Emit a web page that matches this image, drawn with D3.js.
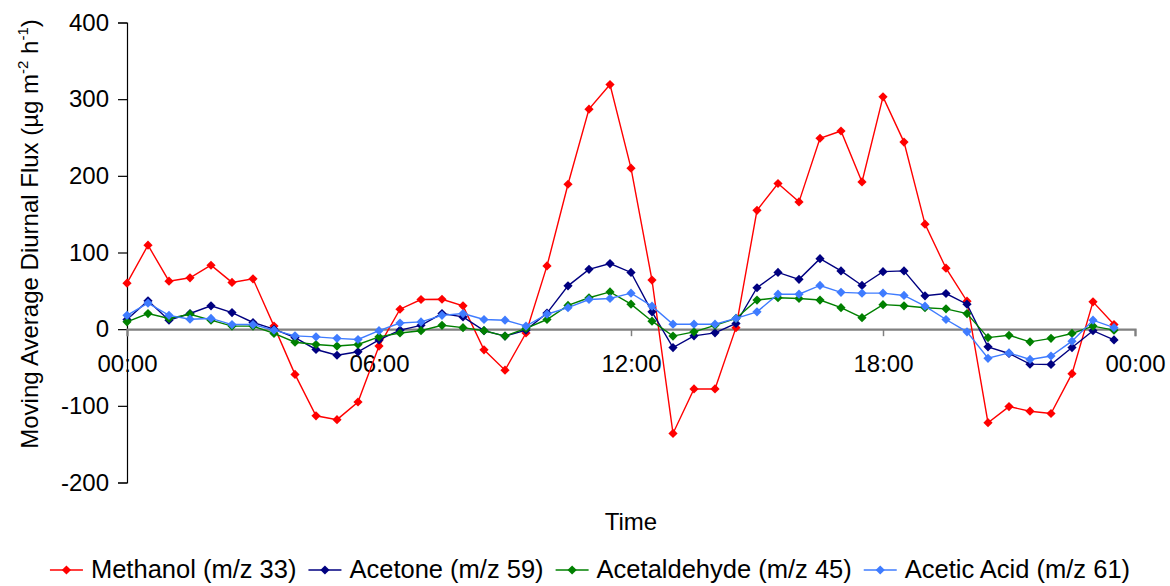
<!DOCTYPE html>
<html>
<head>
<meta charset="utf-8">
<script src="https://cdn.jsdelivr.net/npm/d3@7"></script>
<style>
  body { margin: 0; background: #fff; }
  svg { font-family: "Liberation Sans", Arial, sans-serif; }
</style>
</head>
<body>
<svg id="chart"></svg>
<script>
// half-hourly moving average flux
var times = ["00:00","00:30","01:00","01:30","02:00","02:30","03:00","03:30","04:00","04:30",
             "05:00","05:30","06:00","06:30","07:00","07:30","08:00","08:30","09:00","09:30",
             "10:00","10:30","11:00","11:30","12:00","12:30","13:00","13:30","14:00","14:30",
             "15:00","15:30","16:00","16:30","17:00","17:30","18:00","18:30","19:00","19:30",
             "20:00","20:30","21:00","21:30","22:00","22:30","23:00","23:30"];

var methanol = [60, 109.5, 62.6, 67, 83.4, 61, 65.6, 4, -59, -113,
                -118, -95, -22, 26, 38.7, 39, 30.4, -27, -53.5, -5,
                82.5, 189, 287, 319, 210, 64, -136, -78, -78, 2,
                155, 190, 166, 249, 258.5, 192, 303, 244, 137, 79.5,
                36.5, -122, -101, -107, -110, -58, 35.6, 6];
var acetone = [12.6, 37, 11.7, 20.4, 30.4, 21.7, 8.7, 0, -11, -26.5,
               -34, -29.5, -14, -1.3, 5, 20.4, 16, -2, -9, -1.3,
               21, 56.5, 78, 85.6, 74, 22.6, -24, -8.7, -4.8, 7.4,
               54, 74, 65, 92, 76, 57, 75, 76, 43.5, 46.5,
               32.6, -23, -31.7, -45.6, -46, -24, -2, -14];
var acetaldehyde = [9.6, 20.4, 14, 19.5, 11.7, 4, 4, -5.6, -17, -20,
                    -22, -20, -10, -5, -2, 5, 2, -2, -9, 1,
                    12.6, 31, 41, 48.6, 32.6, 10.4, -9, -3.5, 5, 14,
                    38, 41, 40, 38, 28, 15, 32, 30.5, 28, 26.5,
                    20.4, -11, -8, -16.5, -12, -5.6, 4, -1.3];
var aceticAcid = [18, 34, 18, 13, 14, 6, 6, -1.3, -8.7, -10,
                  -12, -13.5, -2, 8, 9.5, 18, 20.4, 12.6, 11.7, 4,
                  19.5, 28, 38.7, 40, 47, 30, 6.5, 6.5, 6.5, 14,
                  22.6, 45.6, 45.6, 57, 48, 47, 47, 44, 30, 12.6,
                  -3.5, -38, -31, -39.5, -35, -15.6, 11.7, 2];

var seriesNames = ["Methanol (m/z 33)", "Acetone (m/z 59)", "Acetaldehyde (m/z 45)", "Acetic Acid (m/z 61)"];
var seriesColors = ["#ff0000", "#000080", "#008000", "#3f7cff"];
var xTickHours = [0, 6, 12, 18, 24];
var xTickLabels = ["00:00", "06:00", "12:00", "18:00", "00:00"];
var yTicks = [-200, -100, 0, 100, 200, 300, 400];

var W = 1170, H = 586;
var svg = d3.select("#chart").attr("width", W).attr("height", H);

var x = d3.scaleLinear().domain([0, 24]).range([127, 1135]);
var y = d3.scaleLinear().domain([-200, 400]).range([482.5, 22.5]);

function hours(t){
    var p = t.split(":");
    return +p[0] + (+p[1])/60;
}

var allSeries = [methanol, acetone, acetaldehyde, aceticAcid].map(function(vals, k){
    return {name: seriesNames[k], color: seriesColors[k],
            pts: vals.map(function(v, i){ return {h: hours(times[i]), v: v}; })};
});

// y axis
var yAxis = svg.append("g").attr("transform", "translate(127,0)")
    .call(d3.axisLeft(y).tickValues(yTicks).tickSize(9).tickPadding(9)
          .tickFormat(function(d){ return String(d); }));
yAxis.select(".domain").attr("stroke", "#000").attr("stroke-width", 1.2);
yAxis.selectAll(".tick line").attr("stroke", "#000").attr("stroke-width", 1.2);
yAxis.selectAll("text").attr("font-size", 24).attr("font-family", "Liberation Sans, Arial, sans-serif").attr("fill", "#000");

// x axis along zero
var xAxis = svg.append("g").attr("transform", "translate(0," + y(0) + ")")
    .call(d3.axisBottom(x).tickValues(xTickHours).tickSize(7).tickPadding(19)
          .tickFormat(function(d, i){ return xTickLabels[i]; }));
xAxis.select(".domain").attr("stroke", "#808080").attr("stroke-width", 2.2);
xAxis.selectAll(".tick line").attr("stroke", "#808080").attr("stroke-width", 1.5);
xAxis.selectAll("text").attr("font-size", 24).attr("font-family", "Liberation Sans, Arial, sans-serif").attr("fill", "#000");

// lines + markers
var line = d3.line().x(function(d){ return x(d.h); }).y(function(d){ return y(d.v); });
var diamond = "M0,-4.6L4.6,0L0,4.6L-4.6,0Z";

allSeries.forEach(function(s){
    var g = svg.append("g");
    g.append("path").attr("d", line(s.pts)).attr("fill", "none")
        .attr("stroke", s.color).attr("stroke-width", 1.4);
    g.selectAll("path.m").data(s.pts).enter().append("path").attr("class", "m")
        .attr("d", diamond)
        .attr("transform", function(d){ return "translate(" + x(d.h) + "," + y(d.v) + ")"; })
        .attr("fill", s.color);
});

// titles
svg.append("text").attr("x", 631).attr("y", 530).attr("text-anchor", "middle")
    .attr("font-size", 24).text("Time");

var yt = svg.append("text").attr("transform", "translate(38,234) rotate(-90)")
    .attr("text-anchor", "middle").attr("font-size", 24);
yt.append("tspan").text("Moving Average Diurnal Flux (µg m");
yt.append("tspan").attr("font-size", 15).attr("dy", -10).text("-2");
yt.append("tspan").attr("dy", 10).text(" h");
yt.append("tspan").attr("font-size", 15).attr("dy", -10).text("-1");
yt.append("tspan").attr("dy", 10).text(")");

// legend
var leg = svg.append("g");
var cx = 0;
allSeries.forEach(function(s){
    var it = leg.append("g").attr("transform", "translate(" + cx + ",0)");
    it.append("line").attr("x1", 0).attr("x2", 33).attr("y1", 0).attr("y2", 0)
        .attr("stroke", s.color).attr("stroke-width", 1.6);
    it.append("path").attr("d", diamond).attr("transform", "translate(16.5,0)").attr("fill", s.color);
    var t = it.append("text").attr("x", 41).attr("y", 8).attr("font-size", 25.5).text(s.name);
    cx += 41 + t.node().getComputedTextLength() + 12;
});
cx -= 12;
leg.attr("transform", "translate(" + (590 - cx/2) + ",570)");
</script>
</body>
</html>
